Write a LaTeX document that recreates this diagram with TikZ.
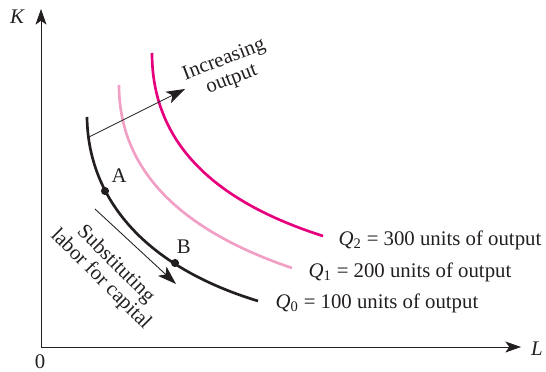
\documentclass[tikz,border=0pt]{standalone}
\usepackage{fontspec}
\setmainfont{Liberation Serif}
\usepackage{tikz}
\usetikzlibrary{calc,arrows.meta}
\usetikzlibrary{positioning}
\definecolor{iq-text}{HTML}{231F20}
\definecolor{iq-high}{HTML}{E6007E}
\definecolor{iq-mid}{HTML}{F29FC5}

\begin{document}
\begin{tikzpicture}[
    x=0.64pt, y=-0.64pt,
    axis/.style={draw=iq-text, line width=0.6pt,
                 -{Stealth[length=10pt, width=7pt, inset=2.5pt]}},
    iso/.style={line width=1.7pt},
    conn/.style={draw=iq-text, line width=0.55pt,
                 -{Stealth[length=12pt, width=8pt, inset=3pt]}},
    label/.style={font=\fontsize{13.3}{13.5}\selectfont, text=iq-text},
    dot/.style={circle, fill=iq-text, inner sep=0pt, minimum size=5.2pt}
]
\useasboundingbox (0,0) rectangle (546,371);

% =========================================================================
% EIXOS
% =========================================================================
\coordinate (origin) at (41,347);
\coordinate (kTop) at (41,9);
\coordinate (lEnd) at (521,347);
\draw[axis] (origin) -- (kTop);
\draw[axis] (origin) -- (lEnd);

\node[label, font=\fontsize{13.3}{14}\selectfont\itshape] (kLabel) at (17,17) {K};
\node[label, font=\fontsize{13.3}{14}\selectfont\itshape] (lLabel) at (537,349) {L};
\node[label, inner sep=0pt] (zero) at (40,362) {0};

% =========================================================================
% ISOQUANTAS
% =========================================================================
\draw[iso, iq-high] (152,53) .. controls (152,140) and (210,200) .. (323,236);
\draw[iso, iq-mid]  (119,85) .. controls (119,170) and (180,230) .. (292,268);
\draw[iso, iq-text] (87,117) .. controls (88,195) and (140,265) .. (258,301);

\node[label, anchor=west] (q2) at (333,240) {\textit{Q}\textsubscript{2} = 300 units of output};
\node[label, anchor=west] (q1) at (303,272) {\textit{Q}\textsubscript{1} = 200 units of output};
\node[label, anchor=west] (q0) at (270,303) {\textit{Q}\textsubscript{0} = 100 units of output};

% =========================================================================
% PONTOS A E B
% =========================================================================
\node[dot] (ptA) at (105,191) {};
\node[dot] (ptB) at (175,263) {};
\node[label, anchor=south west, inner sep=1pt] (aLabel) at ([xshift=1pt, yshift=2pt]ptA.north east) {A};
\node[label, anchor=south west, inner sep=1pt] (bLabel) at ([xshift=0pt, yshift=2pt]ptB.north) {B};

% =========================================================================
% SETAS E RÓTULOS
% =========================================================================
\coordinate (incStart) at (89,137);
\coordinate (incEnd) at (185,89);
\draw[conn] (incStart) -- (incEnd);
\node[label, align=center, rotate=21] (incLabel) at (228,70)
    {Increasing\\output};

\coordinate (subStart) at (95,209);
\coordinate (subEnd) at (176,284);
\draw[conn] (subStart) -- (subEnd);
\node[label, align=center, rotate=-45, inner sep=0pt] (subLabel) at (108,272)
    {Substituting\\labor for capital};

\end{tikzpicture}
\end{document}
